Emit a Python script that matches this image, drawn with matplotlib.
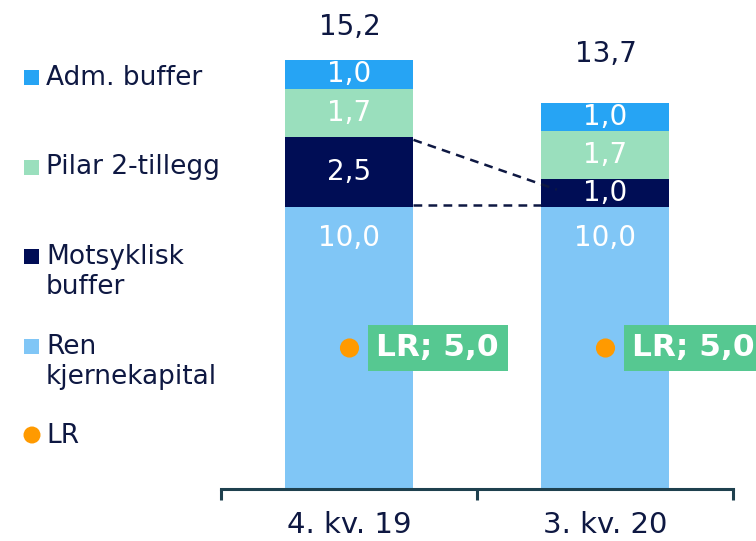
import matplotlib
matplotlib.use("Agg")
import matplotlib.pyplot as plt
from matplotlib.patches import Rectangle, Circle

plt.rcParams["font.family"] = "DejaVu Sans"

# Kapitalkrav, prosent
periods = ["4. kv. 19", "3. kv. 20"]
ren_kjerne = [10.0, 10.0]
motsyklisk = [2.5, 1.0]
pilar2 = [1.7, 1.7]
adm_buffer = [1.0, 1.0]
totals = [15.2, 13.7]
lr = [5.0, 5.0]

series = [
    ("Ren\nkjernekapital", ren_kjerne, "#80C6F6"),
    ("Motsyklisk\nbuffer", motsyklisk, "#000D55"),
    ("Pilar 2-tillegg", pilar2, "#9ADFBD"),
    ("Adm. buffer", adm_buffer, "#26A4F4"),
]
TXT = "#0E1842"
AXC = "#1E404E"
GREEN = "#56C891"
ORANGE = "#FF9A00"


def fmt(v):
    return f"{v:.1f}".replace(".", ",")


fig = plt.figure(figsize=(7.56, 5.41), dpi=100)
ax = fig.add_axes([221.5 / 756, 52 / 541, 512 / 756, (28.2 * 17) / 541])
ax.set_xlim(-0.5, 1.5)
ax.set_ylim(0, 17)

x = list(range(len(periods)))
bottoms = [0.0] * len(periods)
for name, vals, col in series:
    ax.bar(x, vals, width=0.5, bottom=bottoms, color=col, edgecolor="none", zorder=2)
    for i, v in enumerate(vals):
        # base segment label sits near its top, the rest are centred
        if name.startswith("Ren"):
            yy = bottoms[i] + v - 1.1
        else:
            yy = bottoms[i] + v / 2
        ax.text(i, yy, fmt(v), ha="center", va="center", color="white",
                fontsize=20, zorder=4)
    bottoms = [b + v for b, v in zip(bottoms, vals)]

# totals above the bars
ax.text(0, 16.1, fmt(totals[0]), ha="center", va="baseline", color=TXT, fontsize=20)
ax.text(1, 15.15, fmt(totals[1]), ha="center", va="baseline", color=TXT, fontsize=20)

# dashed guides for the countercyclical buffer change
top0 = ren_kjerne[0] + motsyklisk[0]
top1 = ren_kjerne[1] + motsyklisk[1]
x0, x1 = 0.25, 0.81
y0 = top0 - 0.12
y1 = y0 + (top1 - y0) * (x1 - x0) / (0.75 - x0) - 0.22
ax.plot([x0, x1], [y0, y1], color=TXT, lw=1.8, ls=(0, (3.5, 2.5)), zorder=5)
ax.plot([0.25, 0.75], [ren_kjerne[0] + 0.07] * 2, color=TXT, lw=1.8,
        ls=(0, (3.5, 2.5)), zorder=5)

# leverage ratio markers with labels
ax.scatter(x, lr, s=190, color=ORANGE, edgecolor="none", zorder=6, clip_on=False)
for i, v in enumerate(lr):
    ax.annotate(f"LR; {fmt(v)}", xy=(i, v), xytext=(27, 0), textcoords="offset pixels",
                ha="left", va="center", color="white", fontsize=22.5, fontweight="bold",
                bbox=dict(boxstyle="square,pad=0.28", fc=GREEN, ec="none"),
                annotation_clip=False, zorder=6)

# axis styling
for s in ["top", "right", "left"]:
    ax.spines[s].set_visible(False)
ax.spines["bottom"].set_color(AXC)
ax.spines["bottom"].set_linewidth(2.2)
ax.set_yticks([])
ax.set_xticks(x)
ax.set_xticklabels(periods, fontsize=21, color=TXT)
ax.tick_params(axis="x", which="major", length=0, pad=16)
ax.set_xticks([-0.5, 0.5, 1.5], minor=True)
ax.tick_params(axis="x", which="minor", length=8, width=2.2, color=AXC, direction="out")

# legend drawn in pixel space on an overlay
lax = fig.add_axes([0, 0, 1, 1], zorder=-1)
lax.set_xlim(0, 756)
lax.set_ylim(541, 0)
lax.axis("off")
legend_rows = [
    ("Adm. buffer", "#26A4F4", 77, 78),
    ("Pilar 2-tillegg", "#9ADFBD", 167, 167),
    ("Motsyklisk\nbuffer", "#000D55", 256, 272),
    ("Ren\nkjernekapital", "#80C6F6", 346, 362),
]
for label, col, sy, ty in legend_rows:
    lax.add_patch(Rectangle((24, sy - 7.5), 15, 15, color=col, lw=0))
    lax.text(46, ty, label, ha="left", va="center", color=TXT, fontsize=19,
             linespacing=1.15)
lax.add_patch(Circle((32, 435), 8.5, color=ORANGE, lw=0))
lax.text(46, 436, "LR", ha="left", va="center", color=TXT, fontsize=19)

fig.savefig("out.png", dpi=100)
